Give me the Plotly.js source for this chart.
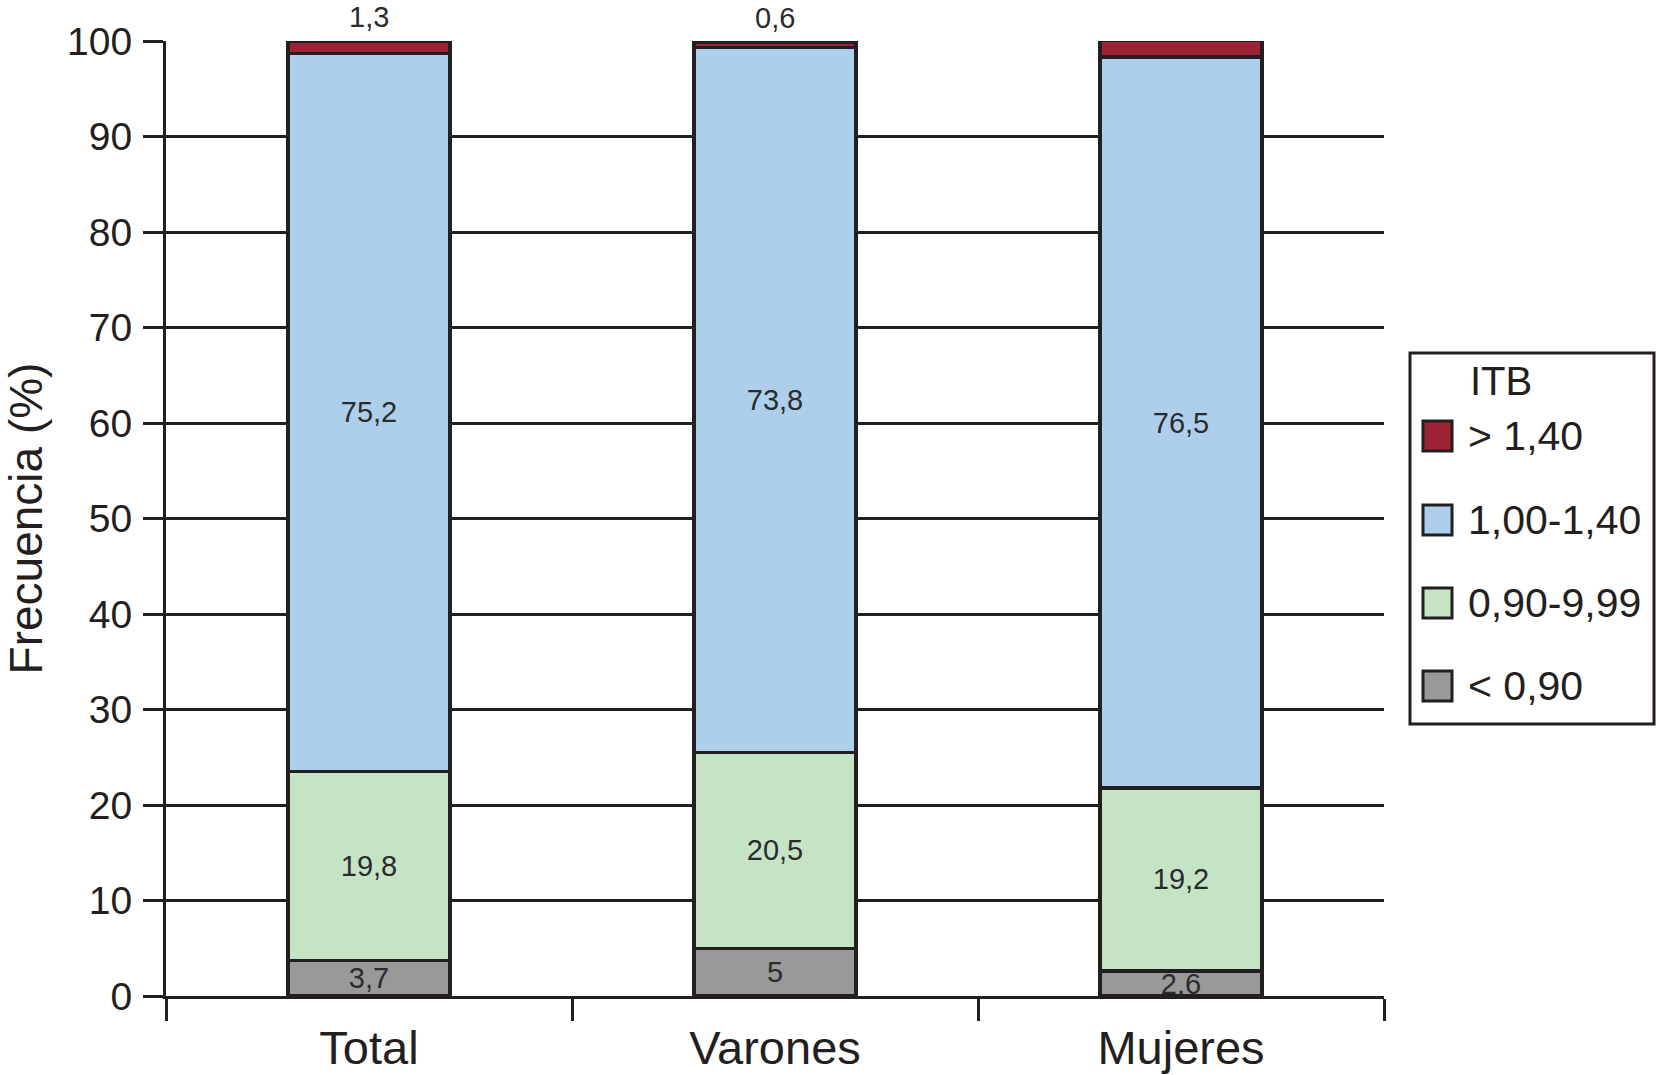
<!DOCTYPE html>
<html>
<head>
<meta charset="utf-8">
<script src="https://cdn.plot.ly/plotly-3.0.1.min.js"></script>
<style>
  html, body { margin: 0; padding: 0; background: #fff; }
  #chart { width: 1656px; height: 1075px; }
</style>
</head>
<body>
<div id="chart"></div>
<script>
const categories = ['Total', 'Varones', 'Mujeres'];
const menor090 = [3.7, 5, 2.6];
const entre090 = [19.8, 20.5, 19.2];
const entre100 = [75.2, 73.8, 76.5];
const mayor140 = [1.3, 0.6, 1.8];
const seriesNames = ['< 0,90', '0,90-9,99', '1,00-1,40', '> 1,40'];
const legendTitle = 'ITB';
const yTitle = 'Frecuencia (%)';

const colores = ['#999999', '#c5e4c6', '#aecfec', '#9b2335'];
const borde = '#231f20';
const fuente = '"Liberation Sans", Arial, Helvetica, sans-serif';

// plot area in pixels, used for margins and the hand-made legend
const PLOT = { l: 166, r: 1384, t: 41, b: 996 };
const W = 1656, H = 1075;
const px = x => (x - PLOT.l) / (PLOT.r - PLOT.l);
const py = y => (PLOT.b - y) / (PLOT.b - PLOT.t);

const fmt = v => String(v).replace('.', ',');

const series = [menor090, entre090, entre100, mayor140];

const data = series.map((vals, i) => ({
    type: 'bar',
    x: categories,
    y: vals,
    name: seriesNames[i],
    marker: { color: colores[i], line: { color: borde, width: 3.5 } },
    text: i < 3 ? vals.map(fmt) : null,
    textposition: i < 3 ? 'inside' : 'none',
    insidetextanchor: 'middle',
    constraintext: 'none',
    textfont: { family: fuente, size: 29, color: '#2b2b2b' },
    hoverinfo: 'x+y+name',
    showlegend: false
}));

// values of the top segment, written above each bar
const annotations = categories.map((c, i) => ({
    x: c,
    y: series.reduce((s, arr) => s + arr[i], 0),
    xref: 'x', yref: 'y',
    text: fmt(mayor140[i]),
    showarrow: false,
    yanchor: 'middle',
    yshift: 24,
    font: { family: fuente, size: 29, color: '#2b2b2b' }
}));

// legend drawn by hand so the swatches keep the original size
const shapes = [{
    type: 'rect', xref: 'paper', yref: 'paper',
    x0: px(1410), x1: px(1654), y0: py(724), y1: py(353),
    line: { color: borde, width: 3 }, fillcolor: '#ffffff', layer: 'above'
}];

annotations.push({
    xref: 'paper', yref: 'paper',
    x: px(1468), y: py(381),
    xanchor: 'left', yanchor: 'middle',
    text: legendTitle, showarrow: false,
    font: { family: fuente, size: 40, color: '#231f20' }
});

const itemY = [686, 603, 520, 436];
seriesNames.forEach((name, i) => {
    let cy = itemY[i];
    shapes.push({
        type: 'rect', xref: 'paper', yref: 'paper',
        x0: px(1423), x1: px(1452), y0: py(cy + 15), y1: py(cy - 15),
        line: { color: borde, width: 3 }, fillcolor: colores[i], layer: 'above'
    });
    annotations.push({
        xref: 'paper', yref: 'paper',
        x: px(1466), y: py(cy),
        xanchor: 'left', yanchor: 'middle',
        text: name, showarrow: false,
        font: { family: fuente, size: 41, color: '#231f20' }
    });
});

const layout = {
    width: W,
    height: H,
    margin: { l: PLOT.l, r: W - PLOT.r, t: PLOT.t, b: H - PLOT.b, pad: 0 },
    paper_bgcolor: '#ffffff',
    plot_bgcolor: '#ffffff',
    barmode: 'stack',
    bargap: 0.6,
    showlegend: false,
    font: { family: fuente, color: '#231f20' },
    xaxis: {
        type: 'category',
        showgrid: false,
        showline: true,
        linecolor: borde,
        linewidth: 3,
        ticks: 'outside',
        tickson: 'boundaries',
        ticklen: 22,
        tickwidth: 3,
        tickcolor: borde,
        ticklabelstandoff: 9,
        tickfont: { family: fuente, size: 47, color: '#231f20' }
    },
    yaxis: {
        range: [0, 100],
        dtick: 10,
        showgrid: true,
        gridcolor: borde,
        gridwidth: 3,
        zeroline: false,
        showline: true,
        linecolor: borde,
        linewidth: 3,
        ticks: 'outside',
        ticklen: 20,
        tickwidth: 3,
        tickcolor: borde,
        ticklabelstandoff: 3,
        tickfont: { family: fuente, size: 39, color: '#231f20' },
        title: { text: yTitle, standoff: 22, font: { family: fuente, size: 46, color: '#231f20' } }
    },
    annotations: annotations,
    shapes: shapes
};

Plotly.newPlot('chart', data, layout, { displayModeBar: false, staticPlot: true });
</script>
</body>
</html>
